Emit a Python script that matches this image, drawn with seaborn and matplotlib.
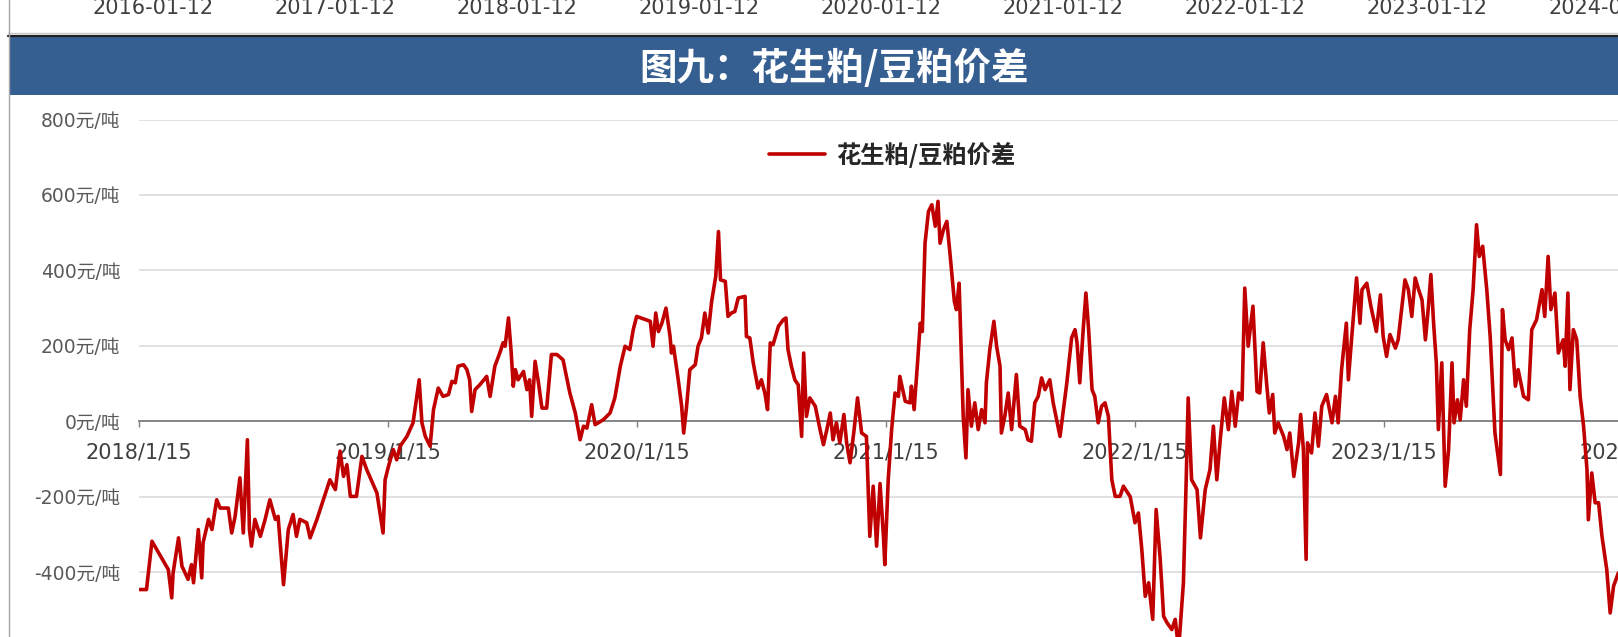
import numpy as np
import pandas as pd
import matplotlib
matplotlib.use("Agg")
import matplotlib.pyplot as plt
import matplotlib.dates as mdates
from matplotlib.patches import Rectangle
from matplotlib.lines import Line2D
import seaborn as sns

# ---------------- data ----------------
start_date = "2018-01-15"
day_offsets = [
    1, 11, 19, 43, 48, 50, 58, 63, 72, 77, 80, 87, 92, 94, 102, 107, 114, 119, 131, 136,
    141, 148, 153, 159, 162, 165, 170, 178, 185, 192, 200, 204, 212, 219, 226, 231, 236, 246, 251, 261,
    280, 288, 295, 300, 305, 310, 319, 327, 334, 349, 358, 361, 366, 373, 378, 383, 393, 402, 411, 415,
    420, 427, 432, 439, 446, 454, 459, 464, 468, 476, 481, 485, 488, 493, 500, 510, 515, 522, 530, 534,
    537, 542, 546, 549, 552, 556, 564, 569, 573, 576, 581, 586, 591, 598, 605, 613, 622, 632, 640, 647,
    652, 657, 664, 669, 681, 691, 698, 706, 713, 720, 725, 730, 750, 754, 758, 762, 767, 773, 779, 781,
    784, 791, 796, 799, 803, 808, 816, 820, 825, 830, 835, 840, 846, 850, 853, 860, 864, 869, 874, 879,
    889, 891, 896, 901, 908, 913, 918, 922, 926, 930, 938, 945, 949, 952, 957, 962, 967, 972, 975, 979,
    984, 992, 999, 1004, 1009, 1014, 1018, 1023, 1028, 1034, 1038, 1043, 1049, 1054, 1060, 1067, 1072, 1077, 1082, 1087,
    1092, 1094, 1099, 1104, 1109, 1114, 1116, 1124, 1131, 1133, 1137, 1142, 1146, 1149, 1153, 1158, 1163, 1168, 1172, 1175,
    1180, 1185, 1190, 1196, 1199, 1203, 1209, 1213, 1216, 1221, 1226, 1231, 1236, 1241, 1243, 1248, 1254, 1258, 1263, 1265,
    1270, 1275, 1280, 1287, 1292, 1300, 1304, 1309, 1314, 1319, 1324, 1329, 1336, 1341, 1351, 1361, 1368, 1373, 1376, 1380,
    1385, 1389, 1393, 1398, 1402, 1407, 1412, 1417, 1422, 1427, 1432, 1439, 1444, 1454, 1461, 1466, 1471, 1476, 1481, 1487,
    1492, 1498, 1503, 1508, 1515, 1520, 1525, 1532, 1536, 1539, 1544, 1552, 1557, 1564, 1571, 1576, 1581, 1586, 1592, 1598,
    1603, 1608, 1613, 1618, 1622, 1627, 1634, 1640, 1644, 1649, 1654, 1658, 1663, 1666, 1671, 1679, 1684, 1688, 1694, 1701,
    1704, 1708, 1712, 1714, 1720, 1725, 1730, 1735, 1742, 1750, 1755, 1759, 1764, 1771, 1774, 1779, 1786, 1791, 1794, 1801,
    1807, 1815, 1821, 1825, 1830, 1835, 1843, 1847, 1852, 1857, 1862, 1867, 1872, 1877, 1882, 1887, 1891, 1895, 1899, 1903,
    1906, 1911, 1916, 1921, 1926, 1929, 1934, 1938, 1943, 1947, 1952, 1957, 1962, 1966, 1971, 1977, 1982, 1989, 1997, 2000,
    2004, 2009, 2014, 2019, 2023, 2031, 2038, 2043, 2050, 2058, 2062, 2067, 2071, 2077, 2082, 2089, 2092, 2096, 2099, 2104,
    2109, 2114, 2119, 2124, 2126, 2131, 2136, 2141, 2146, 2153, 2158, 2163, 2170, 2180,
]
spread_values = [
    -446, -446, -318, -393, -468, -402, -309, -384, -419, -380, -428, -287, -415, -322, -260, -287, -208, -230, -230, -296,
    -252, -150, -296, -49, -287, -331, -260, -305, -260, -208, -260, -252, -433, -287, -247, -305, -260, -269, -309, -260,
    -155, -181, -79, -146, -115, -199, -199, -93, -128, -190, -296, -155, -119, -75, -102, -66, -40, -4, 110, -4,
    -40, -66, 31, 88, 66, 71, 106, 102, 146, 150, 137, 110, 26, 84, 97, 119, 66, 146, 185, 208,
    199, 274, 181, 93, 137, 110, 132, 84, 110, 13, 159, 102, 35, 35, 177, 177, 163, 75, 22, -49,
    -13, -18, 44, -9, 4, 22, 62, 146, 199, 190, 243, 278, 265, 199, 287, 238, 260, 300, 225, 181,
    199, 110, 40, -31, 35, 137, 150, 199, 221, 287, 234, 318, 384, 503, 375, 371, 278, 287, 291, 327,
    331, 225, 221, 155, 88, 110, 75, 31, 208, 203, 252, 269, 274, 190, 146, 110, 97, -40, 181, 13,
    62, 40, -22, -62, -22, 22, -49, -4, -57, 18, -57, -110, -22, 62, -31, -40, -305, -172, -331, -165,
    -305, -380, -155, -22, 75, 66, 119, 53, 49, 93, 31, 155, 260, 238, 472, 556, 574, 517, 583, 472,
    508, 530, 437, 318, 296, 366, 13, -97, 84, -13, 49, -22, 31, -4, 102, 190, 265, 199, 146, -31,
    13, 75, -22, 124, -13, -22, -49, -53, 49, 66, 115, 84, 110, 49, -40, 102, 221, 243, 208, 102,
    243, 340, 243, 84, 66, -4, 40, 49, 13, -155, -199, -199, -172, -200, -269, -243, -340, -464, -428, -525,
    -234, -366, -517, -534, -552, -525, -605, -428, -163, 62, -155, -181, -309, -181, -128, -13, -155, -49, 62, -22,
    79, -13, 75, 57, 353, 199, 305, 79, 75, 208, 102, 22, 71, -31, -4, -40, -75, -31, -146, -57,
    18, -75, -366, -57, -84, 22, -66, 40, 71, -4, 66, -4, 137, 260, 110, 225, 380, 260, 349, 366,
    305, 238, 335, 225, 172, 230, 194, 216, 296, 375, 349, 278, 380, 349, 322, 216, 296, 389, 260, 155,
    -22, 155, -172, -75, 155, -4, 57, 4, 110, 40, 243, 349, 521, 437, 464, 349, 225, -31, -141, 296,
    216, 190, 221, 93, 137, 66, 57, 243, 269, 349, 278, 437, 296, 340, 181, 216, 146, 340, 84, 243,
    216, 66, -13, -128, -261, -137, -216, -216, -305, -393, -508, -437, -402, -390,
]
y_ticks = [-600, -400, -200, 0, 200, 400, 600, 800]
x_tick_dates = ["2018-01-15", "2019-01-15", "2020-01-15", "2021-01-15",
                "2022-01-15", "2023-01-15", "2024-01-15"]
top_strip_dates = ["2016-01-12", "2017-01-12", "2018-01-12", "2019-01-12", "2020-01-12",
                   "2021-01-12", "2022-01-12", "2023-01-12", "2024-01-12"]
title_text = "图九：花生粕/豆粕价差"
series_name = "花生粕/豆粕价差"
unit = "元/吨"

# ---------------- style ----------------
sns.set_theme(style="white")
plt.rcParams["font.family"] = ["DejaVu Sans", "Noto Sans CJK SC"]
plt.rcParams["axes.unicode_minus"] = False

W, H = 1618, 637
fig = plt.figure(figsize=(W / 100, H / 100), dpi=100)
fig.patch.set_facecolor("white")


def fx(px):
    return px / W


def fy(py):
    return 1 - py / H


# ---------------- top strip (cropped chart above) ----------------
ax_top = fig.add_axes([0, fy(33), 1, 33 / H])
ax_top.axis("off")
top_dates = pd.to_datetime(top_strip_dates)
top_px_per_day = 182 / 365.25
top_left = top_dates[0] - pd.Timedelta(days=153 / top_px_per_day)
top_right = top_left + pd.Timedelta(days=W / top_px_per_day)
ax_top.set_xlim(top_left, top_right)
ax_top.set_ylim(0, 1)
for d, lab in zip(top_dates, top_strip_dates):
    ax_top.text(mdates.date2num(d), 0.76, lab, transform=ax_top.get_xaxis_transform(),
                ha="center", va="center", fontsize=15, color="#404040")

# separator lines + left border
fig.add_artist(Line2D([fx(8), 1], [fy(33), fy(33)], color="#C8C8C8", lw=1.0))
fig.add_artist(Line2D([fx(8), 1], [fy(35.8), fy(35.8)], color="#202020", lw=1.6))
fig.add_artist(Line2D([fx(8.5), fx(8.5)], [0, 1], color="#A6A6A6", lw=1.0))

# blue title band
fig.add_artist(Rectangle((fx(9), fy(95)), 1 - fx(9), 58 / H, transform=fig.transFigure,
                         facecolor="#365F91", edgecolor="none"))
fig.text(fx(834), fy(68), title_text, ha="center", va="center", color="white",
         fontsize=27, fontweight="bold", family=["Noto Sans CJK SC", "DejaVu Sans"])

# ---------------- main chart ----------------
px_per_day = 249 / 365.25
x_left_px = 139
y_top_px = 119.5
y_bot_px = 119.5 + 7 * 75.45
span_days = 2300
ax = fig.add_axes([fx(x_left_px), fy(y_bot_px), span_days * px_per_day / W,
                   (y_bot_px - y_top_px) / H])
ax.set_facecolor("none")

start = pd.Timestamp(start_date)
dates = start + pd.to_timedelta(day_offsets, unit="D")
df = pd.DataFrame({"date": dates, "spread": spread_values})
sns.lineplot(data=df, x="date", y="spread", ax=ax, color="#C00000", lw=2.6,
             label=series_name, zorder=3)

ax.set_xlim(start, start + pd.Timedelta(days=span_days))
ax.set_ylim(y_ticks[0], y_ticks[-1])
ax.set_yticks(y_ticks)
ax.set_yticklabels([f"{v}{unit}" for v in y_ticks])
ax.yaxis.grid(True, color="#D9D9D9", lw=1.1)
ax.xaxis.grid(False)
for s in ["left", "right", "top"]:
    ax.spines[s].set_visible(False)
ax.spines["bottom"].set_position(("data", 0))
ax.spines["bottom"].set_color("#7F7F7F")
ax.spines["bottom"].set_linewidth(1.3)
ax.spines["bottom"].set_zorder(2.5)

xt = pd.to_datetime(x_tick_dates)
ax.set_xticks(xt)
ax.set_xticklabels([f"{d.year}/{d.month}/{d.day}" for d in xt])
ax.tick_params(axis="x", direction="out", length=4.5, width=1, color="#7F7F7F",
               pad=11, labelsize=15, labelcolor="#404040", bottom=True)
ax.tick_params(axis="y", length=0, pad=13.5, labelsize=13.5, labelcolor="#595959")
ax.set_xlabel("")
ax.set_ylabel("")

leg = ax.legend(loc="center", bbox_to_anchor=(fx(892), fy(155)), bbox_transform=fig.transFigure,
                frameon=False, handlelength=2.3, handletextpad=0.45,
                prop={"family": ["Noto Sans CJK SC", "DejaVu Sans"], "size": 17.5, "weight": "bold"})
for t in leg.get_texts():
    t.set_color("#262626")

fig.savefig("out.png", dpi=100, facecolor="white")
